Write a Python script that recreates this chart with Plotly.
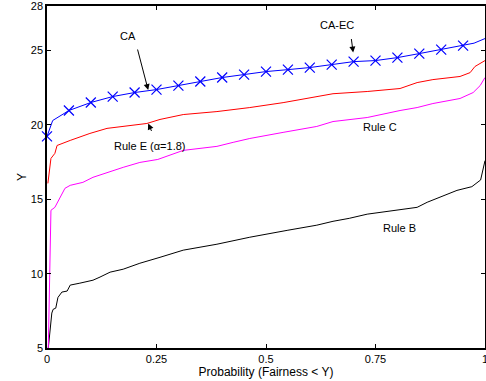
import plotly.graph_objects as go

# CA-EC (blue, x markers)
caec_x = [0, 0.013, 0.05, 0.10, 0.15, 0.20, 0.25, 0.30, 0.35, 0.40, 0.45, 0.50, 0.55, 0.60, 0.65, 0.70, 0.75, 0.80, 0.85, 0.90, 0.95, 0.975, 1.0]
caec_y = [19.23, 20.3, 20.97, 21.51, 21.91, 22.18, 22.38, 22.65, 22.92, 23.19, 23.39, 23.59, 23.72, 23.86, 24.06, 24.26, 24.33, 24.53, 24.80, 25.07, 25.34, 25.5, 25.81]
caec_mx = [0, 0.05, 0.10, 0.15, 0.20, 0.25, 0.30, 0.35, 0.40, 0.45, 0.50, 0.55, 0.60, 0.65, 0.70, 0.75, 0.80, 0.85, 0.90, 0.95]
caec_my = [19.23, 20.97, 21.51, 21.91, 22.18, 22.38, 22.65, 22.92, 23.19, 23.39, 23.59, 23.72, 23.86, 24.06, 24.26, 24.33, 24.53, 24.80, 25.07, 25.34]

# Rule E (red)
rulee_x = [0.002, 0.005, 0.009, 0.018, 0.023, 0.053, 0.098, 0.137, 0.174, 0.228, 0.258, 0.311, 0.388, 0.463, 0.539, 0.578, 0.653, 0.731, 0.806, 0.845, 0.881, 0.943, 0.966, 0.977, 1.0]
rulee_y = [16.07, 17.0, 17.75, 18.09, 18.62, 18.96, 19.43, 19.77, 19.9, 20.1, 20.37, 20.7, 20.9, 21.17, 21.5, 21.7, 22.1, 22.25, 22.45, 22.85, 23.05, 23.26, 23.52, 23.93, 24.33]

# Rule C (magenta)
rulec_x = [0.003, 0.009, 0.018, 0.030, 0.041, 0.053, 0.082, 0.105, 0.137, 0.174, 0.212, 0.253, 0.311, 0.388, 0.425, 0.463, 0.539, 0.578, 0.616, 0.653, 0.731, 0.806, 0.845, 0.881, 0.943, 0.973, 0.989, 1.0]
rulec_y = [5.0, 14.26, 14.46, 15.13, 15.74, 15.94, 16.14, 16.48, 16.81, 17.15, 17.48, 17.68, 18.29, 18.56, 18.83, 19.09, 19.5, 19.7, 19.9, 20.23, 20.5, 20.97, 21.17, 21.44, 21.78, 22.18, 22.65, 23.19]

# Rule B (black)
ruleb_x = [0.003, 0.011, 0.014, 0.020, 0.025, 0.034, 0.046, 0.053, 0.075, 0.105, 0.121, 0.144, 0.174, 0.212, 0.258, 0.311, 0.388, 0.463, 0.55, 0.616, 0.653, 0.69, 0.731, 0.806, 0.845, 0.868, 0.904, 0.936, 0.97, 0.99, 1.0]
ruleb_y = [5.0, 7.35, 7.6, 7.68, 8.4, 8.76, 8.83, 9.23, 9.36, 9.56, 9.77, 10.1, 10.3, 10.7, 11.1, 11.58, 11.98, 12.45, 12.92, 13.26, 13.52, 13.72, 14.0, 14.33, 14.46, 14.8, 15.2, 15.6, 15.85, 16.3, 17.6]

x_ticks = [0, 0.25, 0.5, 0.75, 1]
x_tick_labels = ["0", "0.25", "0.5", "0.75", "1"]
y_ticks = [5, 10, 15, 20, 25, 28]
y_tick_labels = ["5", "10", "15", "20", "25", "28"]

FONT = "Liberation Sans, Arial, sans-serif"

fig = go.Figure()
fig.add_trace(go.Scatter(x=ruleb_x, y=ruleb_y, mode="lines", line=dict(color="black", width=1), name="Rule B"))
fig.add_trace(go.Scatter(x=rulec_x, y=rulec_y, mode="lines", line=dict(color="#ff00ff", width=1), name="Rule C"))
fig.add_trace(go.Scatter(x=rulee_x, y=rulee_y, mode="lines", line=dict(color="red", width=1), name="Rule E"))
fig.add_trace(go.Scatter(x=caec_x, y=caec_y, mode="lines", line=dict(color="blue", width=1), name="CA-EC"))
fig.add_trace(go.Scatter(x=caec_mx, y=caec_my, mode="markers", cliponaxis=False,
                         marker=dict(symbol="x-thin", size=10, line=dict(color="blue", width=1.2), color="blue"),
                         name="CA-EC markers"))

ann = []
def text(x, y, t):
    ann.append(dict(x=x, y=y, xref="x", yref="y", text=t, showarrow=False,
                    font=dict(family=FONT, size=11, color="black")))
def arrow(x, y, ax, ay):
    ann.append(dict(x=x, y=y, xref="x", yref="y", ax=ax, ay=ay, axref="pixel", ayref="pixel",
                    text="", showarrow=True, arrowhead=2, arrowsize=1.2, arrowwidth=1, arrowcolor="black"))

text(0.185, 25.95, "CA")
arrow(0.231, 22.35, -11, -42)
text(0.662, 26.75, "CA-EC")
arrow(0.699, 24.87, -2, -15)
text(0.235, 18.6, "Rule E (α=1.8)")
arrow(0.231, 20.1, 4, 9)
text(0.76, 19.83, "Rule C")
text(0.804, 13.1, "Rule B")

fig.update_layout(
    width=486, height=381,
    margin=dict(l=47, r=1, t=6, b=33, autoexpand=False),
    paper_bgcolor="white", plot_bgcolor="white",
    showlegend=False,
    font=dict(family=FONT, size=11, color="black"),
    annotations=ann,
    xaxis=dict(range=[0, 1], tickvals=x_ticks, ticktext=x_tick_labels,
               ticks="inside", ticklen=4, tickcolor="black", mirror="ticks",
               showline=True, linecolor="black", linewidth=1.5, showgrid=False, zeroline=False,
               automargin=False, ticklabeloverflow="allow",
               title=dict(text="Probability (Fairness < Y)", standoff=2, font=dict(size=12))),
    yaxis=dict(range=[5, 28], tickvals=y_ticks, ticktext=y_tick_labels,
               ticks="inside", ticklen=4, tickcolor="black", mirror="ticks",
               showline=True, linecolor="black", linewidth=1.5, showgrid=False, zeroline=False,
               automargin=False, ticklabeloverflow="allow",
               title=dict(text="Y", standoff=2, font=dict(size=12))),
)

fig.write_html("out.html", config={"displayModeBar": False},
               post_script="document.body.style.margin='0';document.body.style.overflow='hidden';")
